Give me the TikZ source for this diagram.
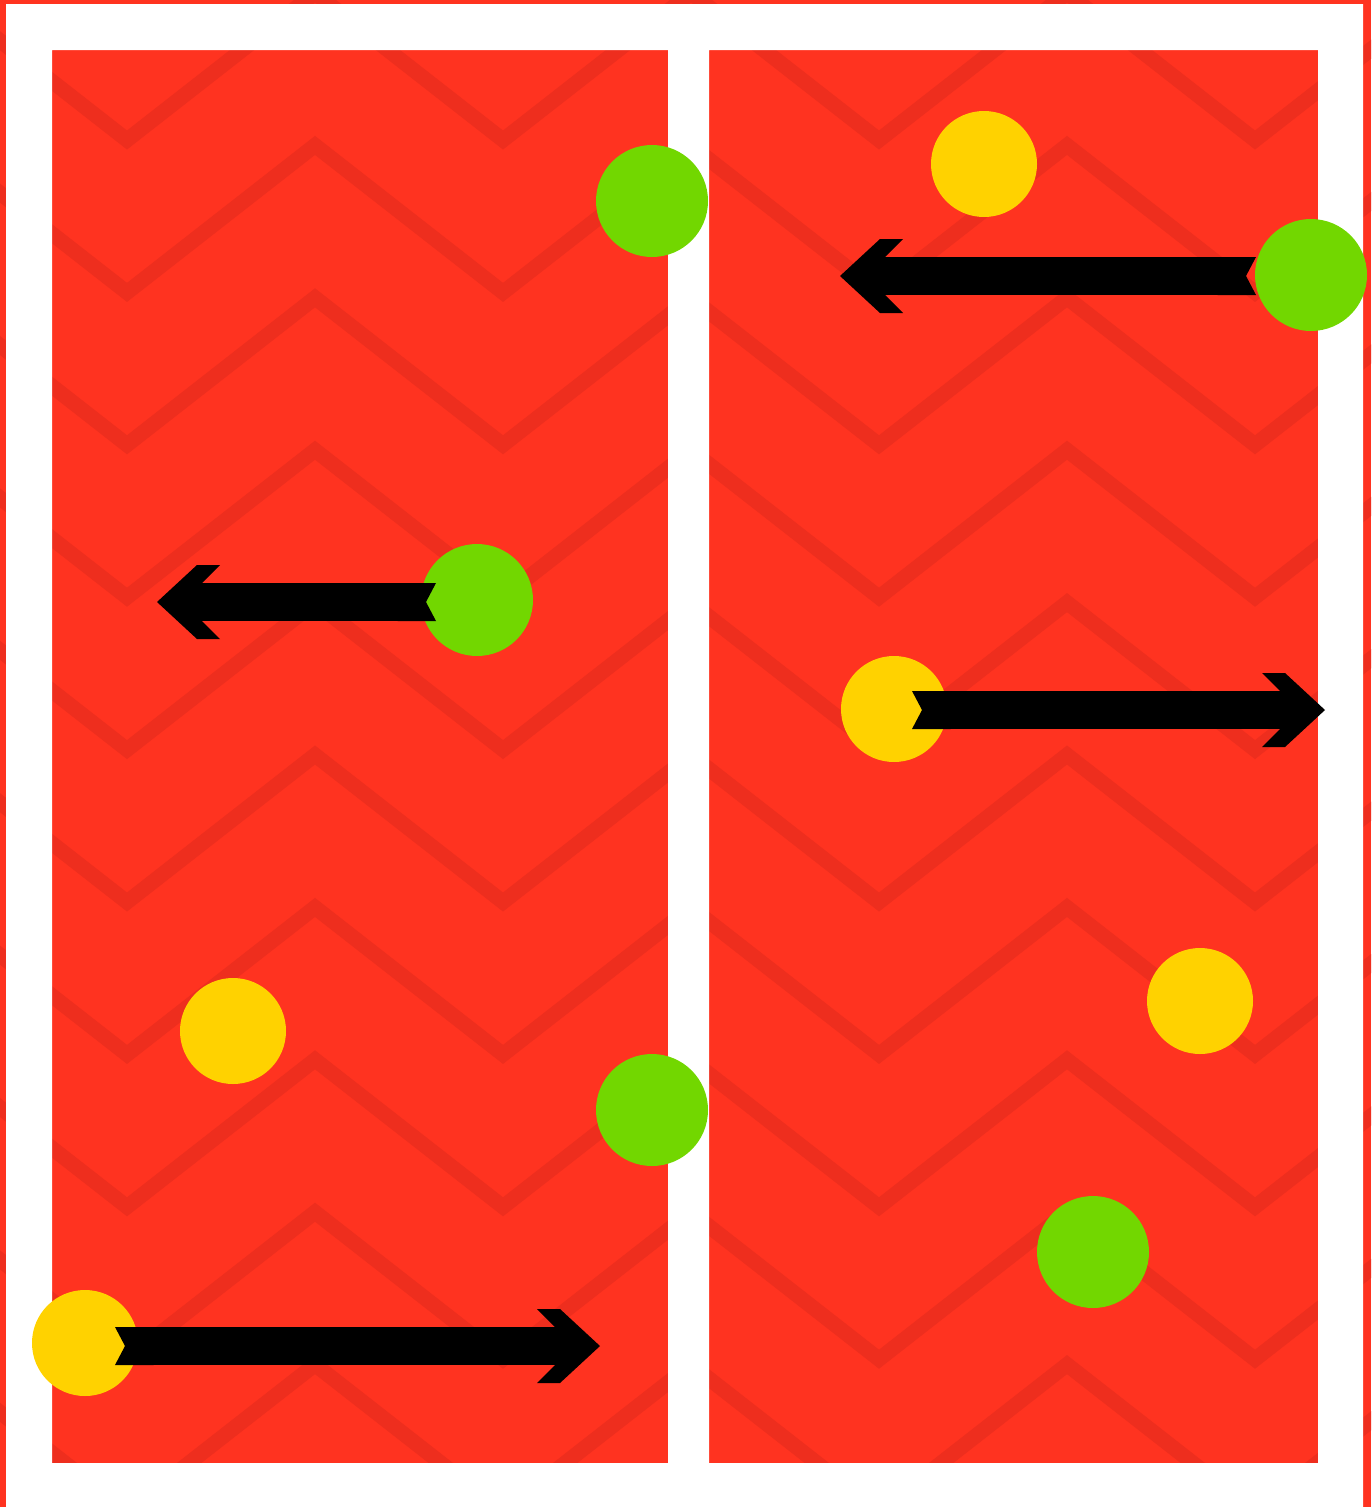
\documentclass[tikz,border=0pt]{standalone}
\usetikzlibrary{arrows.meta}
\definecolor{bgred}{HTML}{FF3320}
\definecolor{zigred}{HTML}{EE2E1E}
\definecolor{ballgreen}{HTML}{72D700}
\definecolor{ballyellow}{HTML}{FFD200}
\pgfdeclarearrow{
  name = Chevron,
  setup code = {
    \pgfarrowssettipend{0pt}
    \pgfarrowssetlineend{-43pt}
    \pgfarrowssetvisualbackend{-63pt}
    \pgfarrowssetbackend{-63pt}
    \pgfarrowshullpoint{0pt}{0pt}
    \pgfarrowsupperhullpoint{-63pt}{37pt}
  },
  drawing code = {
    \pgfpathmoveto{\pgfqpoint{0pt}{0pt}}
    \pgfpathlineto{\pgfqpoint{-40pt}{37pt}}
    \pgfpathlineto{\pgfqpoint{-63pt}{37pt}}
    \pgfpathlineto{\pgfqpoint{-45pt}{19pt}}
    \pgfpathlineto{\pgfqpoint{-45pt}{-19pt}}
    \pgfpathlineto{\pgfqpoint{-63pt}{-37pt}}
    \pgfpathlineto{\pgfqpoint{-40pt}{-37pt}}
    \pgfpathclose
    \pgfusepathqfill
  }
}
\begin{document}
\begin{tikzpicture}[x=1pt,y=-1pt,
  zigzag/.style={zigred,line width=15pt},
  greenball/.style={circle,fill=ballgreen,minimum size=112pt,inner sep=0pt},
  yellowball/.style={circle,fill=ballyellow,minimum size=106pt,inner sep=0pt},
  bigarrow/.style={line width=38pt,{Triangle Cap[reversed,length=10pt]}-Chevron}]
\useasboundingbox (0,0) rectangle (1371,1507);
\begin{scope}
\clip (0,0) rectangle (1371,1507);
\fill[bgred] (0,0) rectangle (1371,1507);
\foreach \j in {-1,...,9}
  \draw[zigzag] (-61,{-7+152.4*\j}) \foreach \k in {1,...,4} {-- ++(188,147) -- ++(188,-147)};
\end{scope}
\fill[white,even odd rule] (6,4) rectangle (1363,1507) (52,50) rectangle (668,1463) (709,50) rectangle (1318,1463);

\node[greenball] (g1) at (652,201) {};
\node[yellowball] (y1) at (984,164) {};
\node[greenball] (g2) at (1311,275) {};
\node[greenball] (g3) at (477,600) {};
\node[yellowball] (y2) at (894,709) {};
\node[yellowball] (y3) at (233,1031) {};
\node[yellowball] (y4) at (1200,1001) {};
\node[greenball] (g4) at (652,1110) {};
\node[greenball] (g5) at (1093,1252) {};
\node[yellowball] (y5) at (85,1343) {};

\coordinate (t1) at (840,276);
\coordinate (t2) at (157,602);
\coordinate (t3) at (1325,710);
\coordinate (t4) at (600,1346);
\draw[bigarrow] ([xshift=-55pt,yshift=-1pt]g2.center) -- (t1);
\draw[bigarrow] ([xshift=-41pt,yshift=-2pt]g3.center) -- (t2);
\draw[bigarrow] ([xshift=18pt,yshift=-1pt]y2.center) -- (t3);
\draw[bigarrow] ([xshift=30pt,yshift=-3pt]y5.center) -- (t4);
\end{tikzpicture}
\end{document}
